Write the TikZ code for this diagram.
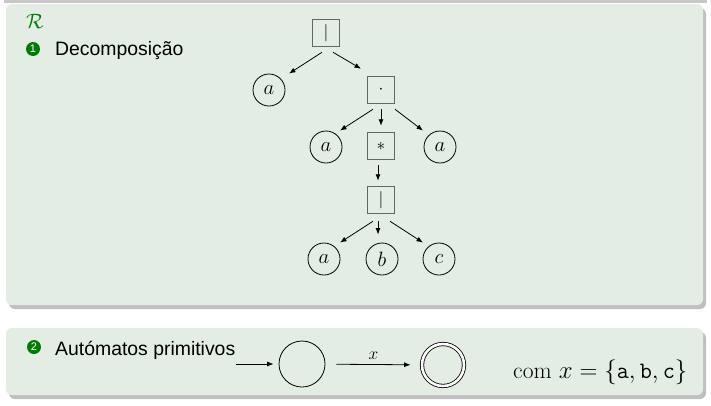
\documentclass[tikz,border=0pt]{standalone}
\usepackage{amsmath}
\usepackage{fontspec}
\newfontfamily\blocksf{Liberation Sans}
\usepackage{tikz}
\usetikzlibrary{arrows.meta}
\usetikzlibrary{shadows}
\definecolor{blockbg}{RGB}{228,237,228}
\definecolor{ballgreen}{RGB}{0,125,0}
\definecolor{boxgray}{RGB}{95,105,95}

\begin{document}
\begin{tikzpicture}
        [
            x = 1pt, y = -1pt, > = {Latex[length=6.5pt, width=5pt]},
            block/.style = {fill=blockbg, rounded corners=6pt,
                drop shadow={shadow xshift=3pt, shadow yshift=-4pt, opacity=0.5}},
            opbox/.style = {rectangle, draw=boxgray, line width=1.5pt, minimum size=27pt,
                inner sep=0pt, font=\fontsize{19}{19}\selectfont},
            leaf/.style = {circle, draw=black, line width=0.8pt, minimum size=32pt,
                inner sep=0pt, font=\fontsize{20}{20}\selectfont},
            autstate/.style = {circle, draw=black, line width=0.8pt, minimum size=46pt, inner sep=0pt},
            ball/.style = {circle, fill=ballgreen, minimum size=14pt, inner sep=0pt,
                text=white, font=\blocksf\fontsize{11}{11}\selectfont},
            title/.style = {anchor=base west, inner sep=0pt, font=\blocksf\fontsize{19.4}{20}\selectfont},
            edge/.style = {->, line width=0.8pt}
        ]
        \useasboundingbox (0,0) rectangle (711,405);
        \fill[black!22] (4,0) rectangle (707,3);

        % blocks
        \path[block] (6,4) rectangle (703,305);
        \path[block] (6,328) rectangle (703,395);

        \node [anchor=base west, inner sep=0pt, text=ballgreen, font=\fontsize{20}{20}\selectfont] at (26,28) (rname) {$\mathcal{R}$};
        \node [ball] at (33,49) (ball1) {1};
        \node [title] at (55,55) (title1) {Decomposição};

        % tree
        \node [opbox] at (326,33) (alt1) {$|$};
        \node [leaf] at (269,90) (a1) {$a$};
        \node [opbox] at (381,90) (cat) {$\cdot$};
        \node [leaf] at (326,147) (a2) {$a$};
        \node [opbox] at (381,146) (star) {$*$};
        \node [leaf] at (440,147) (a3) {$a$};
        \node [opbox] at (381,200) (alt2) {$|$};
        \node [leaf] at (324,259) (a4) {$a$};
        \node [leaf] at (382,259) (b1) {$b$};
        \node [leaf] at (439,259) (c1) {$c$};

        \draw[edge] ([xshift=-4pt,yshift=-5pt]alt1.south) -- ([xshift=20pt]a1.north);
        \draw[edge] ([xshift=7pt,yshift=-5pt]alt1.south) -- ([xshift=-20pt,yshift=7pt]cat.north);
        \draw[edge] ([xshift=-8pt,yshift=-5pt]cat.south) -- ([xshift=14pt]a2.north);
        \draw[edge, shorten <=5pt, shorten >=6pt] (cat) -- (star);
        \draw[edge] ([xshift=14pt,yshift=-5pt]cat.south) -- ([xshift=-17pt]a3.north);
        \draw[edge, shorten <=5pt, shorten >=5pt] ([xshift=-3pt]star.south) -- ([xshift=-3pt]alt2.north);
        \draw[edge] ([xshift=-8pt,yshift=-7pt]alt2.south) -- ([xshift=16pt]a4.north);
        \draw[edge, shorten <=7pt, shorten >=8pt] ([xshift=-3pt]alt2.south) -- ([xshift=-4pt]b1.north);
        \draw[edge] ([xshift=9pt,yshift=-7pt]alt2.south) -- ([xshift=-16pt]c1.north);

        % primitive automata
        \node [ball] at (34,347) (ball2) {2};
        \node [title] at (55,355) (title2) {Autómatos primitivos};

        \coordinate (init) at (236,364);
        \node [autstate] at (302,364) (q0) {};
        \node [autstate, double, double distance=2.6pt, minimum size=42pt] at (443,365) (q1) {};
        \draw[edge, shorten >=5pt] (init) -- (q0);
        \draw[edge, shorten <=11pt, shorten >=11pt] (q0) --
            node[above, inner sep=5pt, font=\fontsize{19}{19}\selectfont] (sym) {$x$} (q1);

        \node [anchor=base west, inner sep=0pt, font=\fontsize{23.5}{24}\selectfont] at (513,378) (cond)
            {com $x=\{\mathtt{a},\mathtt{b},\mathtt{c}\}$};
    \end{tikzpicture}
\end{document}
